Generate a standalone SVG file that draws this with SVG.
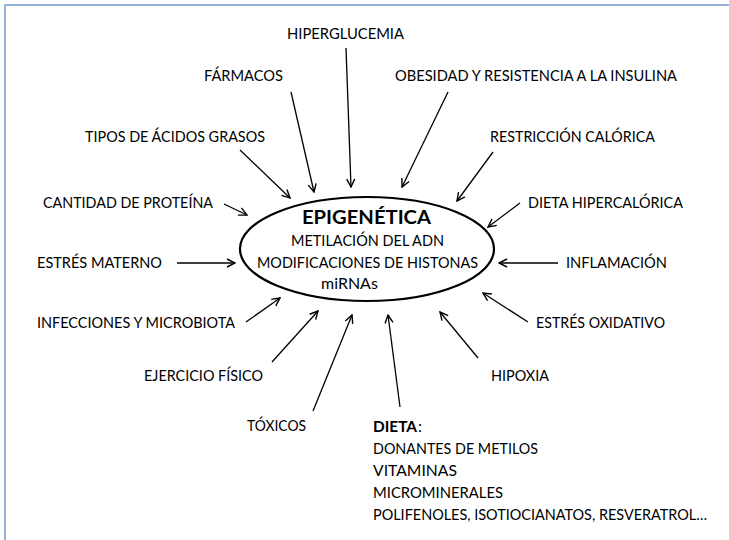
<svg xmlns="http://www.w3.org/2000/svg" width="729" height="540" viewBox="0 0 729 540">
<style>
.lbl{font-family:Lato,"Open Sans","Liberation Sans",sans-serif;font-size:16px;fill:#000;}
.b{font-weight:bold;}
.sm{font-size:14.5px;}
.ttl{font-family:Lato,"Open Sans","Liberation Sans",sans-serif;font-size:19px;font-weight:bold;fill:#000;}
.arr{stroke:#000;stroke-width:1.3;fill:none;marker-end:url(#ah);}
</style>
<defs>
<marker id="ah" viewBox="0 0 10 10" markerWidth="10" markerHeight="10" refX="9" refY="5" orient="auto" markerUnits="userSpaceOnUse">
<path d="M1,1 L9,5 L1,9" fill="none" stroke="#000" stroke-width="1.4"/>
</marker>
</defs>
<rect width="729" height="540" fill="#fff"/>
<path d="M5,540 V5 H729" fill="none" stroke="#95b3d7" stroke-width="2"/>

<g id="center">
<ellipse cx="367" cy="249" rx="127" ry="52" fill="none" stroke="#000" stroke-width="2.2"/>
<text class="ttl" x="302" y="224" textLength="129" lengthAdjust="spacingAndGlyphs">EPIGENÉTICA</text>
<text class="lbl" x="291" y="246" textLength="153" lengthAdjust="spacingAndGlyphs">METILACIÓN DEL ADN</text>
<text class="lbl" x="257" y="268" textLength="221" lengthAdjust="spacingAndGlyphs">MODIFICACIONES DE HISTONAS</text>
<text class="lbl" x="321" y="289">miRNAs</text>
</g>

<g id="hiperglucemia"><text class="lbl" x="287" y="39" textLength="117" lengthAdjust="spacingAndGlyphs">HIPERGLUCEMIA</text></g>
<g id="farmacos"><text class="lbl" x="204" y="81" textLength="79" lengthAdjust="spacingAndGlyphs">FÁRMACOS</text></g>
<g id="obesidad"><text class="lbl" x="395" y="81" textLength="282" lengthAdjust="spacingAndGlyphs">OBESIDAD Y RESISTENCIA A LA INSULINA</text></g>
<g id="acidos"><text class="lbl" x="85" y="142" textLength="180" lengthAdjust="spacingAndGlyphs">TIPOS DE ÁCIDOS GRASOS</text></g>
<g id="restriccion"><text class="lbl" x="490" y="142" textLength="165" lengthAdjust="spacingAndGlyphs">RESTRICCIÓN CALÓRICA</text></g>
<g id="proteina"><text class="lbl" x="43" y="208" textLength="170" lengthAdjust="spacingAndGlyphs">CANTIDAD DE PROTEÍNA</text></g>
<g id="hipercalorica"><text class="lbl" x="528" y="208" textLength="155" lengthAdjust="spacingAndGlyphs">DIETA HIPERCALÓRICA</text></g>
<g id="estres-materno"><text class="lbl" x="37" y="268" textLength="125" lengthAdjust="spacingAndGlyphs">ESTRÉS MATERNO</text></g>
<g id="inflamacion"><text class="lbl" x="566" y="268" textLength="101" lengthAdjust="spacingAndGlyphs">INFLAMACIÓN</text></g>
<g id="infecciones"><text class="lbl" x="37" y="328" textLength="198" lengthAdjust="spacingAndGlyphs">INFECCIONES Y MICROBIOTA</text></g>
<g id="oxidativo"><text class="lbl" x="536" y="328" textLength="129" lengthAdjust="spacingAndGlyphs">ESTRÉS OXIDATIVO</text></g>
<g id="ejercicio"><text class="lbl" x="144" y="381" textLength="119" lengthAdjust="spacingAndGlyphs">EJERCICIO FÍSICO</text></g>
<g id="hipoxia"><text class="lbl" x="491" y="381" textLength="58" lengthAdjust="spacingAndGlyphs">HIPOXIA</text></g>
<g id="toxicos"><text class="lbl" x="247" y="431" textLength="59" lengthAdjust="spacingAndGlyphs">TÓXICOS</text></g>
<g id="dieta">
<text class="lbl b" x="373" y="432" textLength="44" lengthAdjust="spacingAndGlyphs">DIETA</text>
<text class="lbl" x="418" y="432">:</text>
<text class="lbl" x="373" y="454" textLength="165" lengthAdjust="spacingAndGlyphs">DONANTES DE METILOS</text>
<text class="lbl" x="373" y="476" textLength="84" lengthAdjust="spacingAndGlyphs">VITAMINAS</text>
<text class="lbl" x="373" y="498" textLength="130" lengthAdjust="spacingAndGlyphs">MICROMINERALES</text>
<text class="lbl sm" x="373" y="520" textLength="334" lengthAdjust="spacingAndGlyphs">POLIFENOLES, ISOTIOCIANATOS, RESVERATROL…</text>
</g>

<g id="connectors">
<line class="arr" x1="346" y1="48" x2="351" y2="187"/>
<line class="arr" x1="291" y1="92" x2="314" y2="192"/>
<line class="arr" x1="448" y1="92" x2="402" y2="187"/>
<line class="arr" x1="240" y1="150" x2="290" y2="198"/>
<line class="arr" x1="493" y1="152" x2="457" y2="201"/>
<line class="arr" x1="224" y1="204" x2="247" y2="215"/>
<line class="arr" x1="520" y1="203" x2="488" y2="227"/>
<line class="arr" x1="177" y1="263" x2="235" y2="263"/>
<line class="arr" x1="558" y1="263" x2="499" y2="263"/>
<line class="arr" x1="246" y1="322" x2="280" y2="298"/>
<line class="arr" x1="272" y1="362" x2="318" y2="311"/>
<line class="arr" x1="313" y1="411" x2="352" y2="315"/>
<line class="arr" x1="400" y1="407" x2="388" y2="315"/>
<line class="arr" x1="478" y1="358" x2="440" y2="312"/>
<line class="arr" x1="528" y1="322" x2="483" y2="293"/>
</g>
</svg>
